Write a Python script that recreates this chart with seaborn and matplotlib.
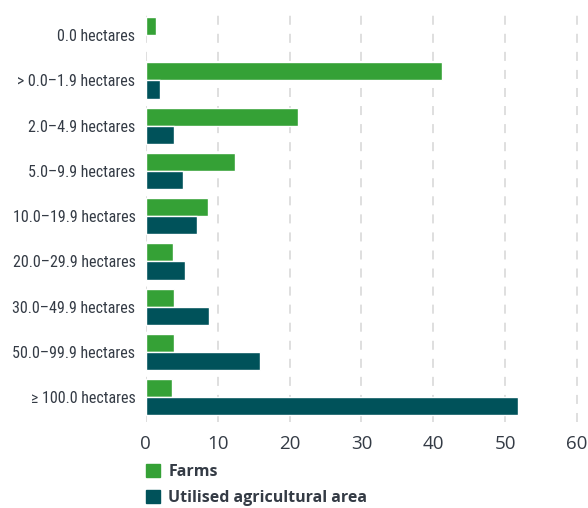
import pandas as pd
import seaborn as sns
import matplotlib.pyplot as plt
from matplotlib import font_manager as fm
from matplotlib.patches import Patch

# farm size classes and shares (%)
categories = ["0.0 hectares", "> 0.0\u20131.9 hectares", "2.0\u20134.9 hectares",
              "5.0\u20139.9 hectares", "10.0\u201319.9 hectares", "20.0\u201329.9 hectares",
              "30.0\u201349.9 hectares", "50.0\u201399.9 hectares", "\u2265 100.0 hectares"]
farms = [1.4, 41.2, 21.2, 12.4, 8.6, 3.8, 3.9, 3.9, 3.6]
utilised_area = [None, 1.95, 3.9, 5.2, 7.1, 5.4, 8.8, 15.9, 51.8]
series_names = ["Farms", "Utilised agricultural area"]
x_ticks = [0, 10, 20, 30, 40, 50, 60]

df = pd.DataFrame({
    "category": categories * 2,
    "value": farms + utilised_area,
    "series": [series_names[0]] * len(categories) + [series_names[1]] * len(categories),
})
df["value"] = df["value"].astype(float)

green = "#35a136"
teal = "#00525a"
text_col = "#343b45"

sns.set_style("white")
plt.rcParams['font.family'] = ['DejaVu Sans']

# the category labels use a condensed face; take whichever one is installed
narrow = None
for f in fm.fontManager.ttflist:
    if f.stretch in ("condensed", "semi-condensed", "extra-condensed") and f.style == "normal" \
            and f.weight in (400, "normal", "regular", "book"):
        if narrow is None or "Liberation" in f.name or "Roboto" in f.name:
            narrow = f
if narrow is not None:
    cat_font = fm.FontProperties(fname=narrow.fname, size=11.5)
else:
    cat_font = fm.FontProperties(family="Liberation Sans", size=10)

fig = plt.figure(figsize=(5.88, 5.08), dpi=100)
ax = fig.add_axes([0.248, 0.169, 0.737, 0.809])

sns.barplot(data=df, y="category", x="value", hue="series", orient="h",
            palette=[green, teal], width=0.8, ax=ax, legend=False,
            order=categories, hue_order=series_names, saturation=1)

ax.set_xlim(0, 60.3)
ax.set_ylim(8.55, -0.53)
ax.set_xticks(x_ticks)
ax.set_xticklabels([str(t) for t in x_ticks], family=['Open Sans', 'DejaVu Sans'],
                   fontsize=13.5, color=text_col)
for lbl in ax.get_yticklabels():
    lbl.set_fontproperties(cat_font)
    lbl.set_color(text_col)
ax.tick_params(axis="y", length=0, pad=7.5)
ax.tick_params(axis="x", length=0, pad=9)
ax.set_xlabel("")
ax.set_ylabel("")
for s in ax.spines.values():
    s.set_visible(False)

ax.set_axisbelow(True)
ax.xaxis.grid(True, color="#dcdcdc", linewidth=1.3, linestyle=(0, (5, 5)))
ax.yaxis.grid(False)

handles = [Patch(color=green, label=series_names[0]),
           Patch(color=teal, label=series_names[1])]
fig.legend(handles=handles, loc="upper left", bbox_to_anchor=(0.248, 0.087),
           frameon=False, handlelength=0.9, handleheight=0.9, handletextpad=0.5,
           labelspacing=0.6, prop={"family": ['Open Sans', 'DejaVu Sans'],
                                   "weight": "bold", "size": 11.5},
           labelcolor=text_col, borderaxespad=0, borderpad=0)

plt.savefig("out.png", dpi=100)
